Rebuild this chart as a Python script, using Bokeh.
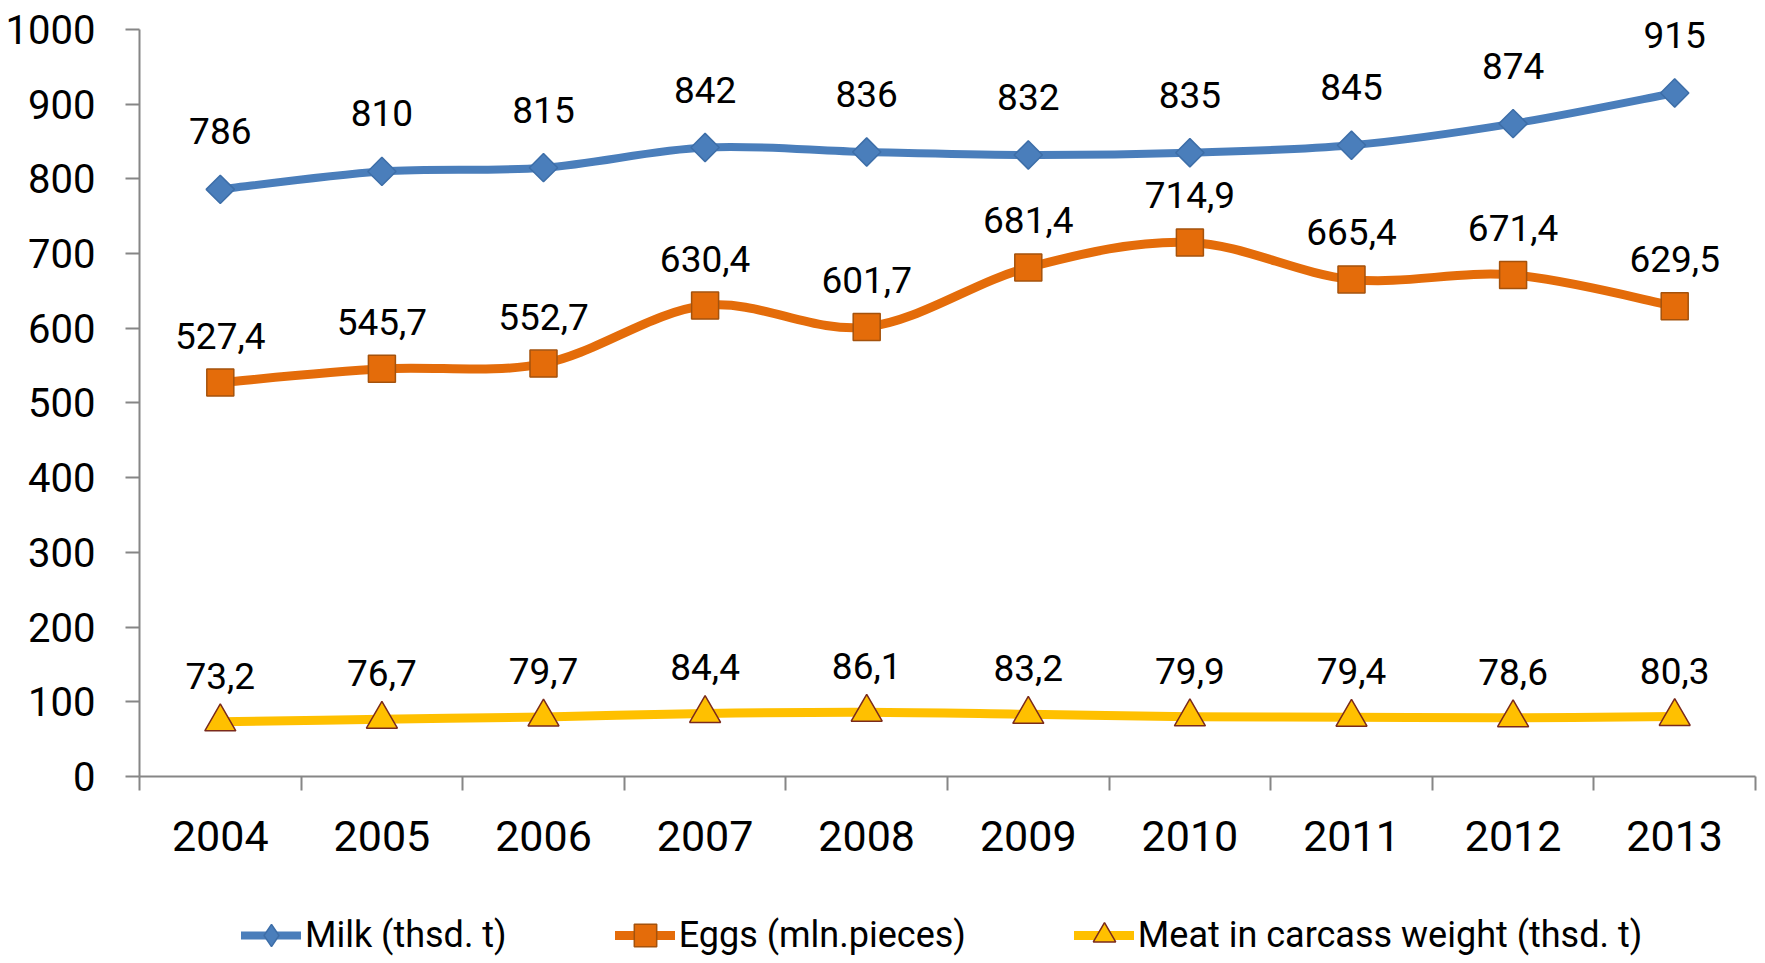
from bokeh.plotting import figure
from bokeh.models import (Range1d, FixedTicker, Legend, LegendItem, LabelSet,
                          ColumnDataSource)
from bokeh.core.properties import value
from bokeh.layouts import column
from bokeh.embed import file_html
from bokeh.resources import INLINE
import math

years = ["2004", "2005", "2006", "2007", "2008", "2009", "2010", "2011", "2012", "2013"]
milk = [786, 810, 815, 842, 836, 832, 835, 845, 874, 915]
eggs = [527.4, 545.7, 552.7, 630.4, 601.7, 681.4, 714.9, 665.4, 671.4, 629.5]
meat = [73.2, 76.7, 79.7, 84.4, 86.1, 83.2, 79.9, 79.4, 78.6, 80.3]
y_ticks = [0, 100, 200, 300, 400, 500, 600, 700, 800, 900, 1000]
series_names = ["Milk (thsd. t)", "Eggs (mln.pieces)", "Meat in carcass weight (thsd. t)"]

FONT = "Roboto"
AXIS_COLOR = "#868686"

xs = list(range(len(years)))


def bezier_source(xv, yv, t=1.0 / 6.0):
    n = len(xv)
    d = dict(x0=[], y0=[], x1=[], y1=[], cx0=[], cy0=[], cx1=[], cy1=[])
    for i in range(n - 1):
        a = i - 1 if i > 0 else i
        b = i + 2 if i + 2 < n else i + 1
        d["x0"].append(xv[i]); d["y0"].append(yv[i])
        d["x1"].append(xv[i + 1]); d["y1"].append(yv[i + 1])
        d["cx0"].append(xv[i] + (xv[i + 1] - xv[a]) * t)
        d["cy0"].append(yv[i] + (yv[i + 1] - yv[a]) * t)
        d["cx1"].append(xv[i + 1] - (xv[b] - xv[i]) * t)
        d["cy1"].append(yv[i + 1] - (yv[b] - yv[i]) * t)
    return ColumnDataSource(d)


p = figure(width=1765, height=888,
           x_range=Range1d(-0.5, len(years) - 0.5), y_range=Range1d(0, 1038.8),
           output_backend="svg", toolbar_location=None,
           min_border_left=139, min_border_right=10, min_border_top=0, min_border_bottom=112)
p.xgrid.visible = False
p.ygrid.visible = False
p.outline_line_color = None
p.background_fill_color = "white"

# X axis: labels at category centres, ticks at category boundaries
xa = p.xaxis[0]
xa.ticker = FixedTicker(ticks=xs, minor_ticks=[i - 0.5 for i in range(len(years) + 1)])
xa.major_label_overrides = {i: y for i, y in enumerate(years)}
xa.major_tick_out = 0
xa.major_tick_in = 0
xa.minor_tick_out = 14
xa.minor_tick_in = 0
xa.minor_tick_line_color = AXIS_COLOR
xa.minor_tick_line_width = 2
xa.axis_line_color = AXIS_COLOR
xa.axis_line_width = 2
xa.major_label_text_font = FONT
xa.major_label_text_font_size = "43px"
xa.major_label_text_color = "black"
xa.major_label_standoff = 30

ya = p.yaxis[0]
ya.ticker = FixedTicker(ticks=y_ticks)
ya.bounds = (0, 1000)
ya.major_tick_out = 14
ya.major_tick_in = 0
ya.minor_tick_out = 0
ya.minor_tick_in = 0
ya.major_tick_line_color = AXIS_COLOR
ya.major_tick_line_width = 2
ya.axis_line_color = AXIS_COLOR
ya.axis_line_width = 2
ya.major_label_text_font = FONT
ya.major_label_text_font_size = "40px"
ya.major_label_text_color = "black"
ya.major_label_standoff = 30

# (values, colour, edge, marker, legend marker, size, angle, width, label offset, formatter)
specs = [
    (milk, "#4a7ebb", "#3d6ea8", "square", "diamond", 20, math.pi / 4, 8, 58,
     lambda v: f"{v:d}"),
    (eggs, "#e46c0a", "#a4520c", "square", "square", 27, 0, 9, 47,
     lambda v: f"{v:.1f}".replace(".", ",")),
    (meat, "#ffc000", "#7a2a1c", "triangle", "triangle", 31, 0, 9, 46,
     lambda v: f"{v:.1f}".replace(".", ",")),
]

# separate small figure that carries the legend below the chart
lg = figure(width=1765, height=75, x_range=Range1d(-1000, -999), y_range=Range1d(-1000, -999),
            output_backend="svg", toolbar_location=None,
            x_axis_type=None, y_axis_type=None, min_border=0)
lg.xgrid.visible = False
lg.ygrid.visible = False
lg.outline_line_color = None

items = []
for (vals, color, edge, marker, lmarker, size, angle, lw, off, fmt), name in zip(specs, series_names):
    src = bezier_source(xs, vals)
    p.bezier(x0="x0", y0="y0", x1="x1", y1="y1", cx0="cx0", cy0="cy0",
             cx1="cx1", cy1="cy1", source=src, line_color=color,
             line_width=lw, line_cap="round", line_join="round")
    psrc = ColumnDataSource(dict(x=xs, y=vals, lab=[fmt(v) for v in vals]))
    p.scatter("x", "y", source=psrc, marker=marker, size=size, angle=angle,
              fill_color=color, line_color=edge, line_width=1.5)
    labels = LabelSet(x="x", y="y", text="lab", source=psrc, y_offset=off,
                      text_align="center", text_baseline="middle",
                      text_font=value(FONT), text_font_size=value("37px"),
                      text_color="black")
    p.add_layout(labels)
    # legend-only copies of the series (outside the legend figure's visible range)
    lr = lg.line(x=xs, y=vals, line_color=color, line_width=lw, line_cap="round")
    ls = lg.scatter(x=xs, y=vals, marker=lmarker, size=size,
                    fill_color=color, line_color=edge, line_width=1.5)
    items.append(LegendItem(label=name, renderers=[lr, ls]))

legend = Legend(items=items, orientation="horizontal", location=(102, 0),
                glyph_width=60, glyph_height=56, label_standoff=4, spacing=108,
                padding=0, margin=0, border_line_color=None,
                background_fill_alpha=0, label_text_font=FONT,
                label_text_font_size="36px", label_text_color="black")
lg.add_layout(legend, "center")

layout = column(p, lg, spacing=0)
open("out.html", "w").write(file_html(layout, INLINE))
